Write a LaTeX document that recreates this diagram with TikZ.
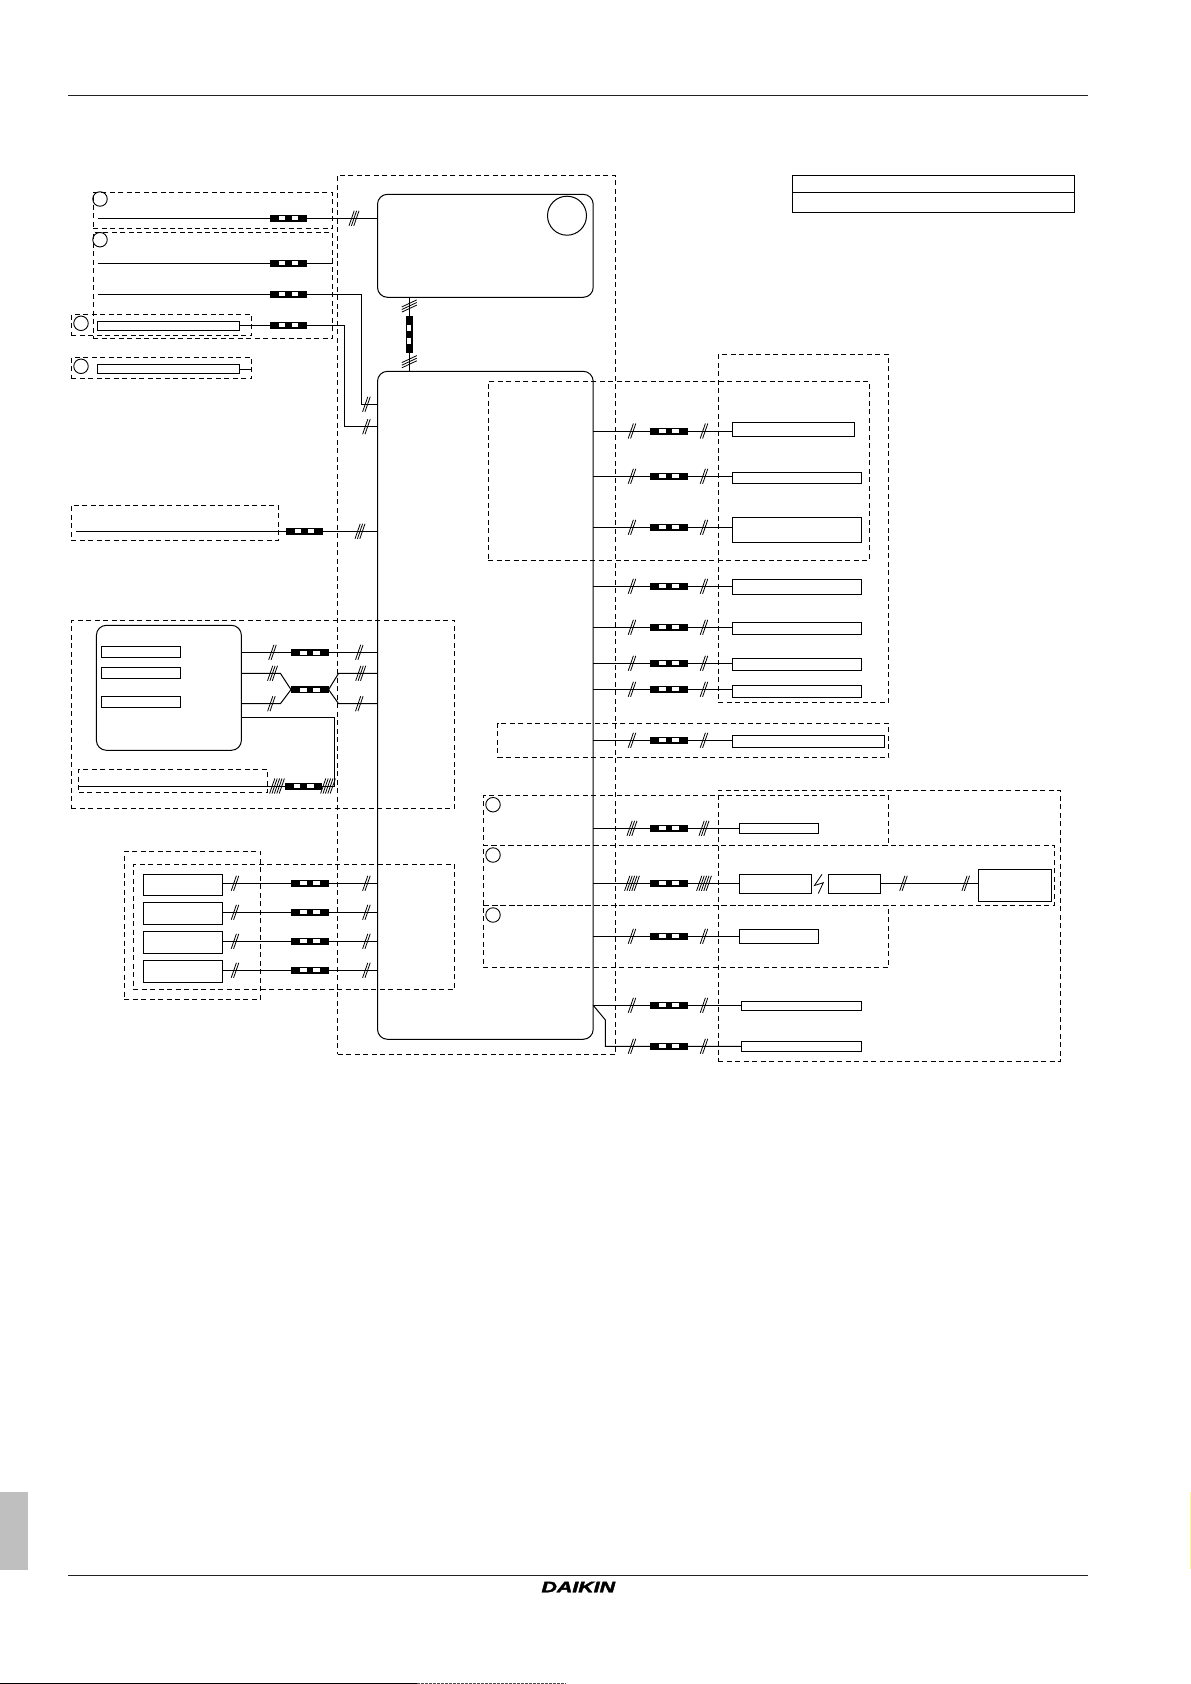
\documentclass[tikz,border=0pt]{standalone}
\usepackage{fontspec}
\setmainfont{Liberation Sans}
\newfontfamily\logofont{Liberation Sans}[BoldItalicFeatures={FakeBold=2.2}]
\newcommand{\bx}[6]{%
  \pgfmathsetmacro{\bw}{#5-#3}\pgfmathsetmacro{\bh}{#6-#4}%
  \node[#1,minimum width=\bw pt,minimum height=\bh pt] (#2) at ({(#3+#5)/2},{(#4+#6)/2}) {};}
\tikzset{
  grp/.style={draw,dashed,dash pattern=on 5pt off 3.5pt,line width=1pt,inner sep=0pt,outer sep=0pt,rectangle},
  part/.style={draw,line width=1pt,inner sep=0pt,outer sep=0pt,rectangle},
  rnd/.style={part,rounded corners=10pt},
  ring/.style={draw,circle,line width=0.9pt,inner sep=0pt,outer sep=0pt,minimum size=14.5pt},
  wire/.style={line width=1pt},
  pics/plug/.style={code={
    \fill[black] (-18.7,-3.5) rectangle (18.7,3.5);
    \fill[white] (-9.8,-2.1) rectangle (-3.3,2.1);
    \fill[white] (3.3,-2.1) rectangle (9.8,2.1);
  }},
  pics/hash/.style={code={
    \foreach \i in {1,...,#1}{
      \pgfmathsetmacro{\o}{(\i-(#1+1)/2)*2.4}
      \draw[line width=0.8pt] (\o-2.6,7.5) -- (\o+2.6,-7.5);
    }
  }},
  pics/vhash/.style={code={
    \foreach \i in {1,...,#1}{
      \pgfmathsetmacro{\o}{(\i-(#1+1)/2)*2.6}
      \draw[line width=0.8pt] (-7.5,\o+3.5) -- (7.5,\o-3.5);
    }
  }},
}
\begin{document}
\begin{tikzpicture}[x=1pt,y=-1pt]
\useasboundingbox (0,0) rectangle (1191,1684);
% page furniture
\coordinate (hl) at (68.4,95.3); \coordinate (hr) at (1088,95.3);
\coordinate (fl) at (68.4,1575.3); \coordinate (fr) at (1088,1575.3);
\draw[line width=1pt,color=black!87] (hl) -- (hr);
\draw[line width=1pt,color=black!87] (fl) -- (fr);
\bx{fill=black!25,inner sep=0pt,outer sep=0pt}{tab}{0}{1492}{28}{1570}
\bx{fill=yellow!40,inner sep=0pt,outer sep=0pt}{edge}{1189.8}{1492}{1190.8}{1569}
\coordinate (b0) at (0,1683.5); \coordinate (b1) at (417,1683.5); \coordinate (b2) at (566,1683.5);
\draw[line width=1pt] (b0) -- (b1);
\draw[line width=1pt,color=black!70,dash pattern=on 3pt off 1pt] (b1) -- (b2);
\node[inner sep=0pt,outer sep=0pt] (logo) at (578.3,1587) {\resizebox{73.5pt}{10.5pt}{\logofont\bfseries\itshape DAIKIN}};
% table
\bx{part,line width=1.2pt}{tabA}{792.3}{175.3}{1074.7}{192.3}
\bx{part,line width=1.2pt}{tabB}{792.3}{192.3}{1074.7}{212.7}
% dashed groups
\bx{grp}{gA}{337.5}{175.3}{615.7}{1054.3}
\bx{grp}{g1}{93.2}{192.3}{332.5}{228.3}
\bx{grp}{g2}{93.2}{232.3}{332.5}{338.3}
\bx{grp}{g3}{71.4}{314.3}{251.8}{335.7}
\bx{grp}{g4}{71.4}{357.3}{251.8}{378.7}
\bx{grp}{g5}{71.4}{505.3}{278.6}{540.3}
\bx{grp}{g6}{488.2}{381.3}{869.3}{560.3}
\bx{grp}{g7}{718.3}{354.3}{888.7}{702.3}
\bx{grp}{g8}{497.5}{723.3}{888.7}{757.3}
\bx{grp}{g9}{718.2}{790.3}{1060.6}{1061.7}
\bx{grp}{g10}{483.2}{795.3}{888.7}{845.3}
\bx{grp}{g11}{483.2}{845.3}{1054.8}{905.3}
\bx{grp}{g12}{483.2}{905.3}{888.7}{967.3}
\bx{grp}{g13}{71.4}{620.3}{454.6}{808.7}
\bx{grp}{g14}{78.6}{769.3}{267.5}{792.3}
\bx{grp}{g15}{133.2}{864.3}{454.6}{989.3}
\bx{grp}{g16}{124.3}{851.3}{260.7}{999.3}
% rings
\node[ring] (c1) at (100,199) {};
\node[ring] (c2) at (100,239.7) {};
\node[ring] (c3) at (81,323.3) {};
\node[ring] (c4) at (81,366.3) {};
\node[ring] (c5) at (493,804.7) {};
\node[ring] (c6) at (493,855) {};
\node[ring] (c7) at (493,915) {};
% main units
\bx{rnd}{top}{377.5}{194.3}{593.2}{297.3}
\bx{rnd}{main}{377.5}{371.3}{593.2}{1039.3}
\node[draw,circle,line width=1pt,inner sep=0pt,outer sep=0pt,minimum size=39pt] (fan) at (567,215.7) {};
% left parts
\bx{part}{s3}{97.5}{321.3}{239.6}{330.7}
\bx{part}{s4}{97.5}{364.3}{239.6}{373.7}
\bx{rnd}{ctl}{96.4}{625.3}{241.4}{750.3}
\bx{part}{k1}{101.4}{646.3}{180.7}{657.7}
\bx{part}{k2}{101.4}{667.3}{180.7}{678.7}
\bx{part}{k3}{101.4}{696.3}{180.7}{707.7}
\bx{part}{m1}{143.2}{874.3}{222.5}{895.7}
\bx{part}{m2}{143.2}{902.3}{222.5}{924.3}
\bx{part}{m3}{143.2}{931.3}{222.5}{953.3}
\bx{part}{m4}{143.2}{960.3}{222.5}{982.7}
% right parts
\bx{part}{r1}{732.3}{422.3}{854.7}{436.7}
\bx{part}{r2}{732.3}{472.3}{861.7}{483.7}
\bx{part}{r3}{732.3}{517.3}{861.7}{542.3}
\bx{part}{r4}{732.3}{579.3}{861.7}{594.3}
\bx{part}{r5}{732.3}{622.3}{861.7}{634.7}
\bx{part}{r6}{732.3}{658.3}{861.7}{670.7}
\bx{part}{r7}{732.3}{685.3}{861.7}{697.7}
\bx{part}{r8}{732.3}{735.7}{884.7}{747.7}
\bx{part}{t1}{739.3}{823.3}{818.6}{833.3}
\bx{part}{t2}{739.3}{874.3}{811.6}{893.3}
\bx{part}{t2b}{828.4}{874.3}{880.5}{893.3}
\bx{part}{t2c}{978.6}{869.3}{1051.7}{901.3}
\bx{part}{t3}{739.3}{929.3}{818.6}{943.3}
\bx{part}{u1}{741.6}{1001}{861.8}{1010.3}
\bx{part}{u2}{741.6}{1041.3}{861.8}{1051.7}
% free wire ends
\coordinate (a1) at (97.5,218.3);
\coordinate (a2) at (97.5,263.3);
\coordinate (a2e) at (332.5,263.3);
\coordinate (a3) at (97.5,294.3);
\coordinate (a3k) at (361.4,294.3);
\coordinate (a3m) at (361.4,404.3);
\coordinate (a4k) at (344.3,325.3);
\coordinate (a4m) at (344.3,426.7);
\coordinate (a5) at (76,531.3);
\coordinate (a6) at (251.8,369.7);
% left wires
\draw[wire] (a1) -- (top.west |- a1);
\draw[wire] (a2) -- (a2e);
\draw[wire] (a3) -- (a3k) -- (a3m) -- (main.west |- a3m);
\draw[wire] (s3.east |- a4k) -- (a4k) -- (a4m) -- (main.west |- a4m);
\draw[wire] (s4.east |- a6) -- (a6);
\draw[wire] (a5) -- (main.west |- a5);
\draw[wire] (top.south -| 409.3,297.3) -- (main.north -| 409.3,371.3);
\pic at (288.6,218.3) {plug};
\pic at (288.6,263.3) {plug};
\pic at (288.6,294.3) {plug};
\pic at (288.6,325.3) {plug};
\pic at (304.5,531.3) {plug};
\pic[rotate=90] at (409.3,334.3) {plug};
\pic at (354,218.3) {hash=3};
\pic at (366.4,404.3) {hash=2};
\pic at (366.4,426.7) {hash=2};
\pic at (360,531.3) {hash=3};
\pic at (409.3,306) {vhash=3};
\pic at (409.3,361.7) {vhash=3};
% controller wires
\coordinate (d1) at (280.4,673.3); \coordinate (d2) at (291,689.6);
\coordinate (d3) at (328.6,689.6); \coordinate (d4) at (338.6,673.3);
\coordinate (e1) at (280.4,703.7); \coordinate (e4) at (338.6,703.7);
\coordinate (f1) at (334.3,717.3); \coordinate (f2) at (334.3,786.2);
\coordinate (f3) at (78.6,786.2);
\coordinate (h1) at (241.4,652.3);
\draw[wire] (h1) -- (main.west |- h1);
\draw[wire] (ctl.east |- d1) -- (d1) -- (d2) -- (d3) -- (d4) -- (main.west |- d4);
\draw[wire] (ctl.east |- e1) -- (e1) -- (d2) -- (d3) -- (e4) -- (main.west |- e4);
\draw[wire] (ctl.east |- f1) -- (f1) -- (f2) -- (f3);
\pic at (309.8,652.8) {plug};
\pic at (309.8,689.6) {plug};
\pic at (303.7,786) {plug};
\pic at (272.5,652.3) {hash=2};
\pic at (359.3,652.3) {hash=2};
\pic at (272.5,673.3) {hash=3};
\pic at (360.7,673.3) {hash=3};
\pic at (271.4,703.7) {hash=2};
\pic at (359.3,703.7) {hash=2};
\pic at (277,786) {hash=5};
\pic at (328,786) {hash=5};
% motor wires
\foreach \n/\y in {m1/883.3,m2/912.3,m3/941.3,m4/970.3}{
  \coordinate (q) at (300,\y);
  \draw[wire] (\n.east |- q) -- (main.west |- q);
  \pic at (309.8,\y) {plug};
  \pic at (235,\y) {hash=2};
  \pic at (366.4,\y) {hash=2};
}
% right wires
\foreach \n/\y/\h/\k in {r1/431/2/2,r2/476.3/2/2,r3/527.3/2/2,r4/586.3/2/2,r5/627.3/2/2,r6/663.3/2/2,r7/689.3/2/2,r8/740.3/2/2,t1/828.3/3/3,t2/883.3/5/5,t3/936.3/2/2,u1/1005.3/2/2}{
  \coordinate (q) at (650,\y);
  \draw[wire] (main.east |- q) -- (\n.west |- q);
  \pic at (669,\y) {plug};
  \pic at (632,\y) {hash=\h};
  \pic at (704,\y) {hash=\k};
}
\coordinate (v0) at (593.2,1005.3); \coordinate (v1) at (605.4,1020); \coordinate (v2) at (605.4,1046.3);
\draw[wire] (v0) -- (v1) -- (v2) -- (u2.west |- v2);
\pic at (669,1046.3) {plug};
\pic at (632,1046.3) {hash=2};
\pic at (704,1046.3) {hash=2};
% radio link
\coordinate (z1) at (822,874.3); \coordinate (z2) at (814.4,885.5);
\coordinate (z3) at (823.3,882.7); \coordinate (z4) at (818.3,893.5);
\draw[line width=0.8pt] (z1) -- (z2) -- (z3) -- (z4);
\coordinate (w) at (900,883.3);
\draw[wire] (t2b.east |- w) -- (t2c.west |- w);
\pic at (903.5,883.3) {hash=2};
\pic at (965.7,883.3) {hash=2};
\end{tikzpicture}
\end{document}
